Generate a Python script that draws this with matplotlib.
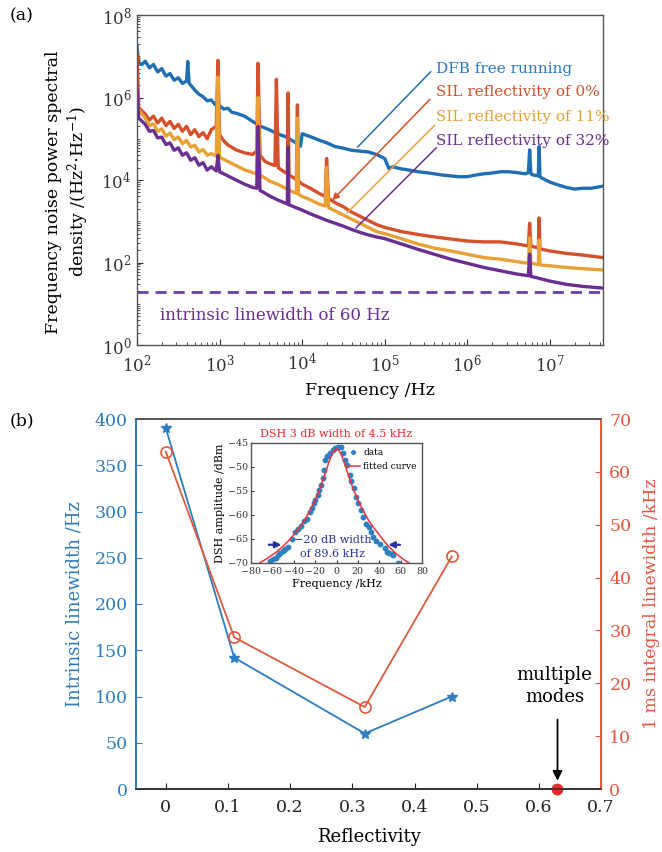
import numpy as np
import matplotlib
matplotlib.use("Agg")
import matplotlib.pyplot as plt
from matplotlib.ticker import LogLocator, NullFormatter, FixedLocator

plt.rcParams['font.family'] = ['DejaVu Serif']
plt.rcParams['mathtext.fontset'] = 'dejavuserif'

# ---------------- Panel (a) data: log10(frequency) and log10(PSD) ----------------
dfb_logf = [2.0, 2.02, 2.06, 2.1, 2.15, 2.2, 2.25, 2.3, 2.35, 2.4, 2.45, 2.5, 2.55, 2.6, 2.615, 2.63, 2.7,
            2.75, 2.8, 2.85, 2.9, 2.95, 3.0, 3.05, 3.1, 3.15, 3.2,
            3.3, 3.4, 3.5, 3.6, 3.7, 3.8, 3.9, 3.98, 4.0, 4.1, 4.2, 4.3, 4.4, 4.5, 4.6, 4.7,
            4.8, 4.9, 5.0, 5.05, 5.1, 5.2, 5.3, 5.4, 5.5, 5.6, 5.7, 5.8, 5.9, 6.0, 6.1, 6.2,
            6.3, 6.4, 6.5, 6.6, 6.7, 6.74, 6.755, 6.77, 6.8, 6.86, 6.87, 6.88, 6.9, 7.0, 7.1,
            7.2, 7.3, 7.4, 7.5, 7.64]
dfb_logS = [7.25, 6.85, 6.80, 6.88, 6.72, 6.80, 6.62, 6.70, 6.52, 6.58, 6.42, 6.48, 6.34, 6.40, 6.87, 6.35, 6.18,
            6.08, 6.02, 5.92, 5.94, 5.82, 5.80, 5.72, 5.74, 5.64, 5.62,
            5.55, 5.42, 5.30, 5.22, 5.12, 5.05, 4.93, 4.82, 5.12, 5.05, 4.97, 4.90, 4.81, 4.77, 4.72, 4.70,
            4.68, 4.62, 4.52, 4.28, 4.32, 4.27, 4.24, 4.20, 4.18, 4.15, 4.12, 4.10, 4.08, 4.08, 4.12, 4.15,
            4.17, 4.20, 4.20, 4.18, 4.15, 4.18, 4.73, 4.15, 4.12, 4.10, 4.81, 4.08, 4.05, 3.95, 3.88,
            3.82, 3.78, 3.80, 3.80, 3.85]

sil0_logf = [2.0, 2.02, 2.1, 2.15, 2.2, 2.25, 2.3, 2.35, 2.4, 2.45, 2.5, 2.55, 2.6, 2.65, 2.7, 2.75, 2.8, 2.85,
             2.9, 2.96, 2.98, 3.0, 3.05, 3.1,
             3.2, 3.3, 3.4, 3.45, 3.466, 3.49, 3.55, 3.6, 3.67, 3.688, 3.71, 3.78, 3.82, 3.83, 3.84,
             3.9, 3.93, 3.943, 3.955, 4.0, 4.1, 4.2, 4.28, 4.296, 4.32, 4.4, 4.5, 4.6, 4.7, 4.8,
             4.9, 5.0, 5.2, 5.4, 5.6, 5.8, 6.0, 6.2, 6.4, 6.6, 6.74, 6.755, 6.77, 6.86, 6.87, 6.88,
             7.0, 7.2, 7.4, 7.64]
sil0_logS = [7.10, 5.75, 5.60, 5.45, 5.55, 5.38, 5.50, 5.32, 5.42, 5.25, 5.35, 5.18, 5.30, 5.10, 5.22, 5.05, 5.15, 5.00,
             5.22, 5.30, 6.90, 5.10, 4.95, 4.85,
             4.73, 4.66, 4.62, 4.70, 6.83, 4.60, 4.45, 4.40, 4.35, 6.44, 4.30, 4.20, 4.15, 6.11, 4.12,
             4.05, 4.00, 5.82, 3.98, 3.90, 3.80, 3.68, 3.60, 4.52, 3.55, 3.45, 3.35, 3.22, 3.12, 3.02,
             2.92, 2.85, 2.75, 2.68, 2.62, 2.57, 2.52, 2.50, 2.50, 2.45, 2.40, 2.95, 2.40, 2.35, 3.08, 2.33,
             2.28, 2.22, 2.18, 2.12]

sil11_logf = [2.0, 2.02, 2.1, 2.15, 2.2, 2.25, 2.3, 2.35, 2.4, 2.45, 2.5, 2.55, 2.6, 2.65, 2.7, 2.75, 2.8, 2.85,
              2.9, 2.96, 2.98, 3.0, 3.1, 3.2,
              3.3, 3.4, 3.45, 3.466, 3.49, 3.55, 3.6, 3.7, 3.8, 3.9, 3.93, 3.943, 3.955, 4.0, 4.1,
              4.2, 4.28, 4.296, 4.32, 4.4, 4.5, 4.6, 4.7, 4.8, 4.9, 5.0, 5.2, 5.4, 5.6, 5.8, 6.0,
              6.2, 6.4, 6.6, 6.74, 6.755, 6.77, 6.86, 6.87, 6.88, 7.0, 7.2, 7.4, 7.64]
sil11_logS = [5.90, 5.70, 5.50, 5.32, 5.36, 5.18, 5.24, 5.06, 5.14, 4.98, 5.04, 4.88, 4.96, 4.80, 4.84, 4.68, 4.74, 4.60,
              4.64, 4.58, 6.50, 4.55, 4.45, 4.35,
              4.25, 4.18, 4.15, 6.00, 4.12, 4.05, 3.98, 3.90, 3.80, 3.70, 3.68, 5.50, 3.66, 3.60, 3.52,
              3.42, 3.37, 4.30, 3.33, 3.25, 3.15, 3.05, 2.95, 2.85, 2.75, 2.70, 2.58, 2.45, 2.35, 2.28, 2.20,
              2.12, 2.08, 2.02, 1.98, 2.60, 1.98, 1.95, 2.55, 1.94, 1.92, 1.88, 1.85, 1.82]

sil32_logf = [2.0, 2.02, 2.1, 2.15, 2.2, 2.25, 2.3, 2.35, 2.4, 2.45, 2.5, 2.55, 2.6, 2.65, 2.7, 2.75, 2.8, 2.85,
              2.9, 2.96, 2.98, 3.0, 3.1, 3.2,
              3.3, 3.4, 3.45, 3.466, 3.49, 3.6, 3.7, 3.82, 3.83, 3.84, 3.9, 4.0, 4.1, 4.2, 4.3,
              4.4, 4.5, 4.6, 4.7, 4.8, 4.9, 5.0, 5.2, 5.4, 5.6, 5.8, 6.0, 6.2, 6.4, 6.6, 6.74,
              6.755, 6.77, 6.8, 7.0, 7.2, 7.4, 7.64]
sil32_logS = [6.20, 5.50, 5.35, 5.18, 5.20, 5.02, 5.04, 4.86, 4.90, 4.72, 4.78, 4.60, 4.66, 4.48, 4.54, 4.36, 4.42, 4.24,
              4.32, 4.22, 4.60, 4.20, 4.10, 4.00,
              3.90, 3.82, 3.80, 5.30, 3.75, 3.62, 3.52, 3.42, 4.80, 3.40, 3.35, 3.27, 3.18, 3.10, 3.02,
              2.95, 2.88, 2.80, 2.73, 2.67, 2.62, 2.58, 2.45, 2.32, 2.20, 2.08, 1.98, 1.88, 1.80, 1.72, 1.68,
              2.20, 1.66, 1.65, 1.55, 1.47, 1.42, 1.38]

intrinsic_level = 19.1  # 60 Hz / pi

series_labels = ["DFB free running", "SIL reflectivity of 0%", "SIL reflectivity of 11%", "SIL reflectivity of 32%"]

# ---------------- Panel (b) data ----------------
reflectivity = [0.0, 0.11, 0.32, 0.46]
intrinsic_lw = [390, 142, 60, 100]
integral_lw = [63.8, 28.7, 15.5, 44.0]
multimode_x = 0.63

# ---------------- Inset data ----------------
dsh_f = [-62, -59, -57, -54.5, -52.5, -50.5, -48, -45, -42, -39, -36, -33, -30, -28, -25, -23,
         -21.5, -20, -17.5, -16.5, -14.5, -13, -11.5, -10.5, -9, -6, -3.5, -1.5, 1, 4, 6.5, 8,
         9.5, 12.5, 14, 16, 18, 20.5, 22.5, 25, 27.5, 30, 32, 34.5, 37, 40.5, 45, 47, 49, 51.5, 53, 58]
dsh_amp = [-69.6, -69.1, -69.0, -68.4, -67.9, -67.5, -67.1, -66.6, -65.1, -63.6, -62.9, -62.2, -61.3, -60.8, -59.4, -58.6,
           -57.6, -56.9, -55.8, -54.8, -53.7, -52.3, -50.6, -48.5, -47.8, -47.1, -46.4, -46.0, -45.9, -45.9, -47.1, -48.5,
           -49.5, -51.6, -53.0, -54.4, -56.2, -57.6, -59.0, -60.4, -61.8, -62.5, -63.5, -64.6, -65.4, -66.1, -66.9, -67.7, -68.0, -68.1, -68.3, -69.9]
fit_f = [-72, -66, -60, -55, -50, -45, -40, -35, -30, -25, -20, -15, -10, -7, -4, -2, 0,
         2, 4, 7, 10, 15, 20, 25, 30, 35, 40, 45, 50, 55, 60, 65, 70]
fit_amp = [-70.0, -69.2, -68.3, -67.5, -66.5, -65.4, -64.1, -62.7, -61.1, -59.1, -56.9, -54.2, -51.0, -48.9, -47.2, -46.5, -46.2,
           -46.5, -47.2, -48.9, -51.0, -54.2, -56.9, -59.1, -61.1, -62.7, -64.1, -65.6, -66.8, -67.9, -68.8, -69.6, -70.3]

# ---------------- Colours ----------------
c_blue = '#1f6fb2'
c_red = '#d4512b'
c_orange = '#e9a035'
c_purple = '#6a2d91'
c_dash = '#6b3fae'
c_bblue = '#2b7cc0'
c_bred = '#de5a3c'
c_rtext = '#e9553b'
frame_gray = '#555555'

W, H = 662, 852
fig = plt.figure(figsize=(W / 100, H / 100), dpi=100)

def fx(px):
    return px / W

def fy(py):
    return 1 - py / H

# ================= Panel (a) =================
ax1 = fig.add_axes([fx(137), fy(345), fx(603 - 137), (345 - 15) / H])
for lf, ls, col in [(dfb_logf, dfb_logS, c_blue), (sil0_logf, sil0_logS, c_red),
                    (sil11_logf, sil11_logS, c_orange), (sil32_logf, sil32_logS, c_purple)]:
    ax1.plot(np.power(10.0, lf), np.power(10.0, ls), color=col, lw=2.4, solid_joinstyle='round')
ax1.axhline(intrinsic_level, color=c_dash, lw=2.0, ls=(0, (4, 2.5)))
ax1.set_xscale('log')
ax1.set_yscale('log')
ax1.set_xlim(100, 4.4e7)
ax1.set_ylim(1, 1e8)
ax1.yaxis.set_major_locator(FixedLocator([1e0, 1e2, 1e4, 1e6, 1e8]))
ax1.yaxis.set_minor_locator(LogLocator(base=10, subs=np.arange(1, 10), numticks=20))
ax1.yaxis.set_minor_formatter(NullFormatter())
ax1.xaxis.set_major_locator(FixedLocator([1e2, 1e3, 1e4, 1e5, 1e6, 1e7]))
ax1.xaxis.set_minor_locator(LogLocator(base=10, subs=np.arange(2, 10), numticks=20))
ax1.xaxis.set_minor_formatter(NullFormatter())
ax1.tick_params(which='both', direction='in', top=False, right=False, labelsize=12, colors='#333333')
ax1.tick_params(axis='x', which='major', pad=6)
ax1.tick_params(axis='y', which='major', pad=4)
ax1.tick_params(which='major', length=4)
ax1.tick_params(which='minor', length=2.5)
for s in ax1.spines.values():
    s.set_color(frame_gray)
    s.set_linewidth(1.0)
ax1.set_xlabel('Frequency /Hz', fontsize=12.5, labelpad=5)
fig.text(fx(68), fy(192), 'Frequency noise power spectral\ndensity /(Hz$^2$$\\cdot$Hz$^{-1}$)',
         rotation=90, ha='center', va='center', fontsize=12.5, linespacing=1.25)

# labels and leader lines
ax1.text(4.2e5, 10**6.69, series_labels[0], color='#2a77c0', fontsize=11, va='center', ha='left')
ax1.text(4.2e5, 10**6.13, series_labels[1], color=c_red, fontsize=11, va='center', ha='left')
ax1.text(4.2e5, 10**5.53, series_labels[2], color=c_orange, fontsize=11, va='center', ha='left')
ax1.text(4.2e5, 10**4.95, series_labels[3], color=c_purple, fontsize=11, va='center', ha='left')
ax1.plot([3.6e5, 4.7e4], [4.2e6, 6.3e4], color=c_blue, lw=1.1)
ax1.annotate('', xy=(2.2e4, 2.9e3), xytext=(3.7e5, 1.0e6),
             arrowprops=dict(arrowstyle='-|>', color=c_red, lw=1.1, mutation_scale=10))
ax1.plot([4.0e5, 3.5e4], [2.1e5, 1.6e3], color=c_orange, lw=1.1)
ax1.plot([4.2e5, 4.5e4], [6.0e4, 6.9e2], color=c_purple, lw=1.1)
ax1.text(10**2.28, 10**0.72, 'intrinsic linewidth of 60 Hz', color=c_purple, fontsize=12,
         va='center', ha='left')
fig.text(fx(10), fy(16), '(a)', fontsize=12.5, va='center', ha='left')

# ================= Panel (b) =================
ax2 = fig.add_axes([fx(136), fy(789), fx(601 - 136), (789 - 419) / H])
axr = ax2.twinx()
ax2.plot(reflectivity, intrinsic_lw, color=c_bblue, lw=1.3, marker='*', ms=7.5, zorder=3)
axr.plot(reflectivity, integral_lw, color=c_bred, lw=1.3, marker='o', ms=8,
         mfc='none', mec=c_bred, mew=1.2, zorder=3)
ax2.set_xlim(-0.048, 0.7)
ax2.set_ylim(0, 400)
axr.set_ylim(0, 70)
ax2.set_xticks([0, 0.1, 0.2, 0.3, 0.4, 0.5, 0.6, 0.7])
ax2.set_xticklabels(['0', '0.1', '0.2', '0.3', '0.4', '0.5', '0.6', '0.7'])
ax2.set_yticks(np.arange(0, 401, 50))
axr.set_yticks(np.arange(0, 71, 10))
ax2.tick_params(axis='x', direction='in', length=4, labelsize=12.5, colors='#222222', pad=7)
ax2.tick_params(axis='y', direction='in', length=4, labelsize=12.5, colors=c_bblue, pad=6)
axr.tick_params(axis='y', direction='in', length=4, labelsize=12.5, colors=c_rtext, pad=6)
for a in (ax2, axr):
    a.spines['top'].set_color(frame_gray)
    a.spines['bottom'].set_color('#333333')
    a.spines['left'].set_color(c_bblue)
    a.spines['right'].set_color(c_bred)
    for s in a.spines.values():
        s.set_linewidth(1.2)
ax2.set_xlabel('Reflectivity', fontsize=13, labelpad=9)
ax2.set_ylabel('Intrinsic linewidth /Hz', fontsize=13, color=c_bblue, labelpad=8)
axr.set_ylabel('1 ms integral linewidth /kHz', fontsize=12.5, color=c_rtext, labelpad=8)
ax2.plot([multimode_x], [0], 'o', color='#e8282b', ms=7.5, clip_on=False, zorder=6)
ax2.annotate('', xy=(multimode_x, 6), xytext=(multimode_x, 78),
             arrowprops=dict(arrowstyle='-|>', color='black', lw=1.3, mutation_scale=14))
ax2.text(0.625, 111, 'multiple\nmodes', fontsize=13, ha='center', va='center', linespacing=1.3)
fig.text(fx(10), fy(421), '(b)', fontsize=12.5, va='center', ha='left')

# ================= Inset =================
axi = fig.add_axes([fx(251), fy(563), fx(171), 120 / H])
axi.plot(dsh_f, dsh_amp, linestyle='none', marker='o', ms=3.2, color='#2f80c0', label='data')
axi.plot(fit_f, fit_amp, color='#f0303a', lw=1.1, label='fitted curve')
axi.set_xlim(-80, 80)
axi.set_ylim(-70, -45)
axi.set_xticks(np.arange(-80, 81, 20))
axi.set_yticks(np.arange(-70, -44, 5))
axi.tick_params(direction='in', length=2.5, labelsize=6.8, colors='#333333')
axi.tick_params(axis='x', pad=3)
axi.tick_params(axis='y', pad=2)
for s in axi.spines.values():
    s.set_color(frame_gray)
    s.set_linewidth(1.0)
axi.set_xlabel('Frequency /kHz', fontsize=8, labelpad=2)
axi.set_ylabel('DSH amplitude /dBm', fontsize=8, labelpad=2)
axi.set_title('DSH 3 dB width of 4.5 kHz', color='#ee2a2f', fontsize=8, pad=4)
leg = axi.legend(loc='upper right', fontsize=6.5, frameon=False, handlelength=1.6,
                 handletextpad=0.3, borderaxespad=0.2, labelspacing=0.5, markerscale=0.8)
axi.annotate('', xy=(-49, -66.2), xytext=(-66, -66.2),
             arrowprops=dict(arrowstyle='-|>', color='#23339a', lw=1.6, mutation_scale=9))
axi.annotate('', xy=(46, -66.2), xytext=(62, -66.2),
             arrowprops=dict(arrowstyle='-|>', color='#23339a', lw=1.6, mutation_scale=9))
axi.text(-3, -65.3, '\u221220 dB width', color='#23339a', fontsize=8, ha='center', va='center')
axi.text(-4, -68.1, 'of 89.6 kHz', color='#23339a', fontsize=8, ha='center', va='center')

fig.savefig('out.png', dpi=100)
